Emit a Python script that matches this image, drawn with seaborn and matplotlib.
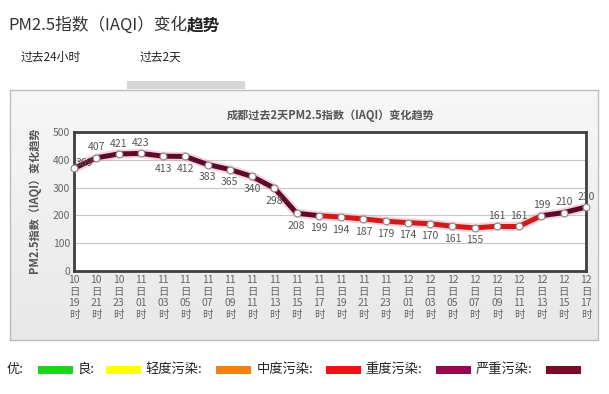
import numpy as np
import pandas as pd
import matplotlib
matplotlib.use("Agg")
import matplotlib.pyplot as plt
from matplotlib.patches import Rectangle
import seaborn as sns

# data
days = ["10", "10", "10", "11", "11", "11", "11", "11", "11", "11", "11", "11",
        "11", "11", "11", "12", "12", "12", "12", "12", "12", "12", "12", "12"]
hours = ["19", "21", "23", "01", "03", "05", "07", "09", "11", "13", "15", "17",
         "19", "21", "23", "01", "03", "05", "07", "09", "11", "13", "15", "17"]
iaqi = [369, 407, 421, 423, 413, 412, 383, 365, 340, 298, 208, 199,
        194, 187, 179, 174, 170, 161, 155, 161, 161, 199, 210, 230]
levels = ["优:", "良:", "轻度污染:", "中度污染:", "重度污染:", "严重污染:"]
level_colors = ["#1fd21f", "#ffff00", "#f28016", "#ee1111", "#930c4d", "#7a0a25"]

sns.set_theme(style="white")
plt.rcParams['font.family'] = ['Noto Sans CJK SC', 'DejaVu Sans']

W, H = 609, 394
fig = plt.figure(figsize=(W / 100, H / 100), dpi=100)
fig.patch.set_facecolor("white")


def fx(px):
    return px / W


def fy(py):
    return 1 - py / H


# page header, last two characters bold
t1 = fig.text(fx(8), fy(25), "PM2.5指数（IAQI）变化", fontsize=12, color="#333333",
              va="center", ha="left")
fig.canvas.draw()
bb = t1.get_window_extent(renderer=fig.canvas.get_renderer())
fig.text(bb.x1 / W, fy(25), "趋势", fontsize=12, color="#222222", fontweight="bold",
         va="center", ha="left")
fig.text(fx(21), fy(57), "过去24小时", fontsize=8.5, color="#222222", va="center")
fig.text(fx(140), fy(57), "过去2天", fontsize=8.5, color="#222222", va="center")
fig.patches.append(Rectangle((fx(127), fy(89)), fx(245) - fx(127), fy(81) - fy(89),
                             transform=fig.transFigure, facecolor="#d6d6d6",
                             edgecolor="none"))

# grey panel with soft gradient
bg = fig.add_axes([fx(10), fy(340), fx(598) - fx(10), fy(90) - fy(340)], zorder=0)
grad = np.linspace(0, 1, 100).reshape(-1, 1)
bg.imshow(grad, aspect="auto", cmap=sns.blend_palette(["#f7f7f7", "#e8e8e8"], as_cmap=True),
          extent=[0, 1, 0, 1], origin="upper")
bg.set_xticks([])
bg.set_yticks([])
for s in bg.spines.values():
    s.set_color("#bdbdbd")
    s.set_linewidth(1)

fig.text(fx(331), fy(115), "成都过去2天PM2.5指数（IAQI）变化趋势", fontsize=8,
         fontweight="bold", color="#555555", ha="center", va="center")

# main plot
ax = fig.add_axes([fx(74), fy(271), fx(586) - fx(74), fy(132) - fy(271)], zorder=1)
ax.set_facecolor("white")

x = np.arange(len(iaqi))
df = pd.DataFrame({"x": x, "iaqi": iaqi})

# segments, coloured by pollution level
rows = []
for i in range(len(iaqi) - 1):
    rows.append({"x": x[i], "iaqi": iaqi[i], "seg": i})
    rows.append({"x": x[i + 1], "iaqi": iaqi[i + 1], "seg": i})
seg_df = pd.DataFrame(rows)
seg_pal = {}
for i in range(len(iaqi) - 1):
    seg_pal[i] = "#5c0a2c" if (iaqi[i] + iaqi[i + 1]) / 2 > 200 else "#d01a1a"

# glow under the line
sns.lineplot(data=df, x="x", y="iaqi", ax=ax, color="#f29ab4", linewidth=6.5,
             alpha=0.45, legend=False, zorder=2)
sns.lineplot(data=seg_df, x="x", y="iaqi", hue="seg", units="seg", estimator=None,
             palette=seg_pal, ax=ax, linewidth=3.6, legend=False, zorder=3,
             solid_capstyle="round")
sns.scatterplot(data=df, x="x", y="iaqi", ax=ax, color="white", edgecolor="#888888",
                s=24, linewidth=0.8, zorder=4, clip_on=False)

# value labels
for i, v in enumerate(iaqi):
    if i == 0:
        ax.annotate(str(v), (i, v), xytext=(1, 4), textcoords="offset points",
                    ha="left", va="center", fontsize=7.5, color="#555555", zorder=5)
        continue
    up = v >= iaqi[i - 1]
    ax.annotate(str(v), (i, v), xytext=(0, 7.5 if up else -9),
                textcoords="offset points", ha="center", va="center",
                fontsize=7.5, color="#555555", zorder=5)

ax.set_xlim(0, len(iaqi) - 1)
ax.set_ylim(0, 500)
ax.set_yticks(range(0, 501, 100))
ax.yaxis.grid(True, color="#c8c8c8", linewidth=0.8)
ax.set_axisbelow(True)
ax.set_xticks(x)
ax.set_xticklabels([f"{d}\n日\n{h}\n时" for d, h in zip(days, hours)],
                   linespacing=1.2)
ax.tick_params(axis="both", length=0, labelsize=7.5, labelcolor="#666666", pad=3)
ax.set_xlabel("")
ax.set_ylabel("")
for s in ax.spines.values():
    s.set_color("#3f3f3f")
    s.set_linewidth(2)

fig.text(fx(35), fy(200), "PM2.5指数（IAQI）变化趋势", rotation=90, fontsize=8,
         fontweight="bold", color="#555555", ha="center", va="center")

# level legend at the bottom
text_x = [7, 77, 145, 257, 365, 476]
box_x = [38, 106, 216, 326, 436, 546]
for lab, col, tx, bx in zip(levels, level_colors, text_x, box_x):
    fig.text(fx(tx), fy(369), lab, fontsize=9.5, color="#222222", va="center", ha="left")
    fig.patches.append(Rectangle((fx(bx), fy(374)), fx(35), 8 / H,
                                 transform=fig.transFigure, facecolor=col,
                                 edgecolor="none"))

fig.savefig("out.png", dpi=100)
